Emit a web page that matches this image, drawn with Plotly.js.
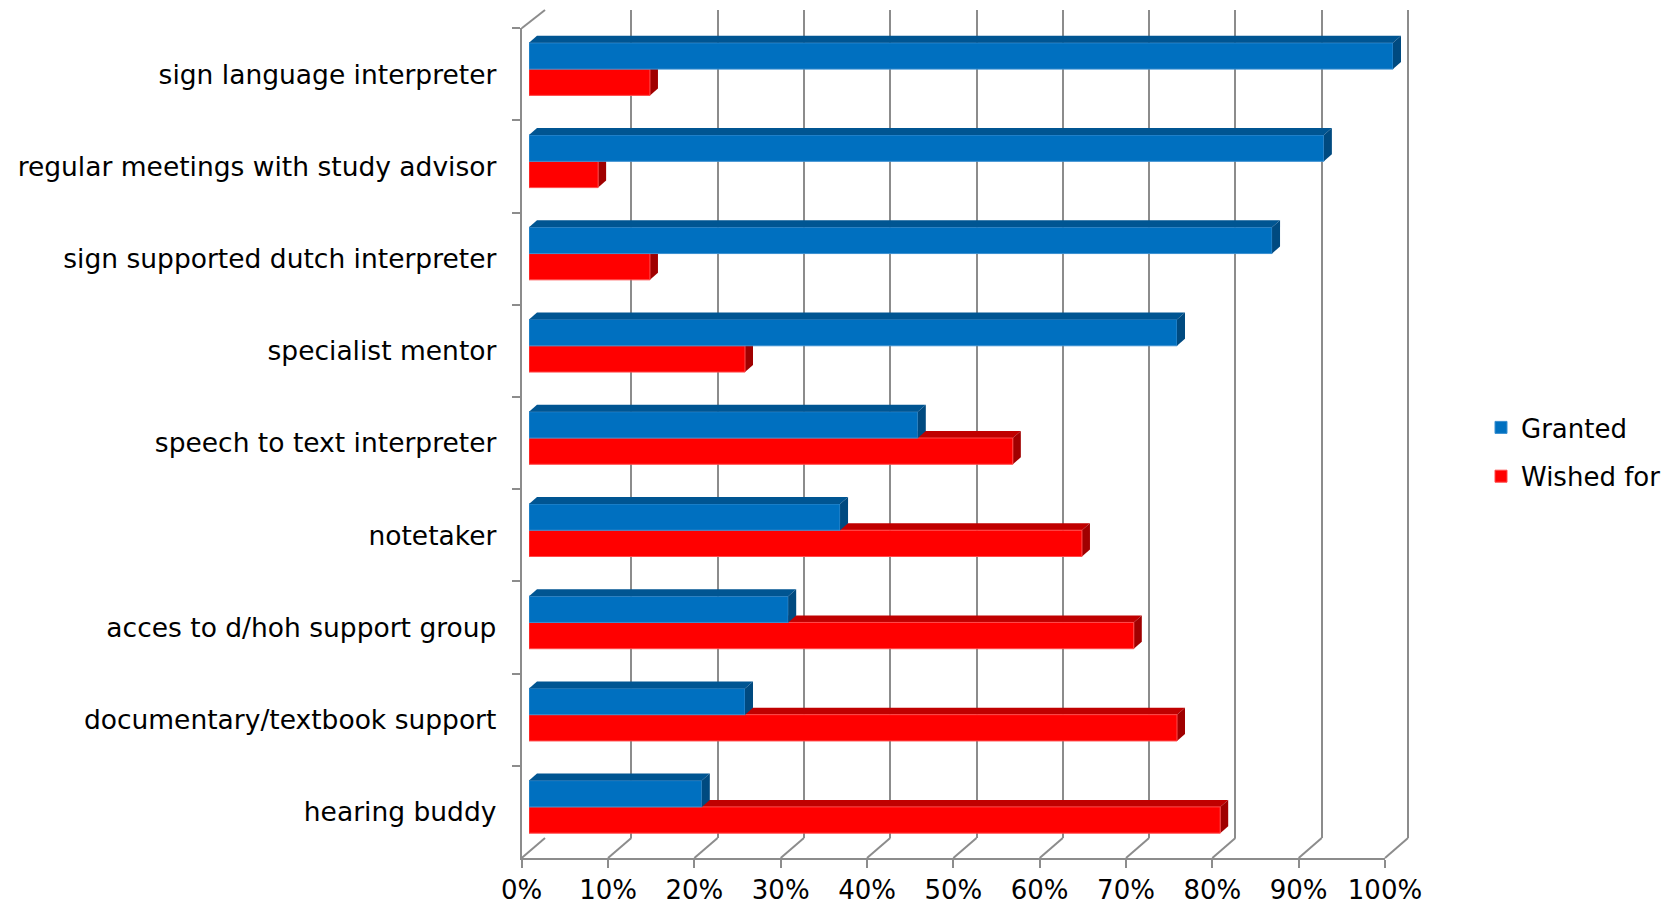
<!DOCTYPE html>
<html>
<head>
<meta charset="utf-8">
<script src="https://cdn.plot.ly/plotly-3.0.1.min.js"></script>
<style>html,body{margin:0;padding:0;background:#fff;}#chart{width:1677px;height:907px;}</style>
</head>
<body>
<div id="chart"></div>
<script>
// ---- data (bottom to top) ----
const categories = [
  "hearing buddy",
  "documentary/textbook support",
  "acces to d/hoh support group",
  "notetaker",
  "speech to text interpreter",
  "specialist mentor",
  "sign supported dutch interpreter",
  "regular meetings with study advisor",
  "sign language interpreter"
];
const granted  = [20, 25, 30, 36, 45, 75, 86, 92, 100];
const wishedFor = [80, 75, 70, 64, 56, 25, 14, 8, 14];
const seriesNames = ["Granted", "Wished for"];
const tickVals = [0, 10, 20, 30, 40, 50, 60, 70, 80, 90, 100];
const tickText = ["0%", "10%", "20%", "30%", "40%", "50%", "60%", "70%", "80%", "90%", "100%"];

// ---- geometry (pixels) ----
const W = 1677, H = 907;
const fx = p => p / W, fy = p => 1 - p / H;
const front = {l: 521.7, r: 1385, t: 28.3, b: 858};
const back  = {l: 545,   r: 1408, t: 10,   b: 838};
const mid   = {l: 529,   r: 1393, t: 23,   b: 853};
const EXT = 1.06; // extra room right of 100% so edge marks are not clipped

const FONT = "DejaVu Sans";
const GRID = "#8c8c8c";
const BLUE = "#0070c0", BLUE_TOP = "#005592", BLUE_SIDE = "#004a80";
const RED = "#ff0000", RED_TOP = "#c00000", RED_SIDE = "#a00000";
const bargap = 0.43;
const w = (1 - bargap) / 2;

const dxU = 8 / ((mid.r - mid.l) / 100);
const dyU = 7 / ((mid.b - mid.t) / categories.length);

const traces = [
  {type: "scatter", x: [0, 100], y: [0, 1], mode: "markers", marker: {opacity: 0},
   xaxis: "x", yaxis: "y", showlegend: false, hoverinfo: "skip"},
  {type: "bar", orientation: "h", name: seriesNames[1], y: categories, x: wishedFor,
   xaxis: "x2", yaxis: "y2", marker: {color: RED, line: {color: "#ff4a4a", width: 1}},
   legendrank: 2, legendgroup: "w", hoverinfo: "skip"},
  {type: "bar", orientation: "h", name: seriesNames[0], y: categories, x: granted,
   xaxis: "x2", yaxis: "y2", marker: {color: BLUE, line: {color: "#3a8fd0", width: 1}},
   legendrank: 1, legendgroup: "g", hoverinfo: "skip"},
  {type: "scatter", y: categories, x: granted, mode: "none", xaxis: "x3", yaxis: "y3",
   showlegend: false, hoverinfo: "skip"}
];

const shapes = [];
function faces(vals, yOff, topCol, sideCol, layer) {
  vals.forEach((v, i) => {
    const yb = i + yOff, yt = yb + w;
    shapes.push({type: "path", xref: "x2", yref: "y2", layer: layer, line: {width: 0},
      fillcolor: topCol,
      path: `M0,${yt} L${v},${yt} L${v + dxU},${yt + dyU} L${dxU},${yt + dyU} Z`});
    shapes.push({type: "path", xref: "x2", yref: "y2", layer: layer, line: {width: 0},
      fillcolor: sideCol,
      path: `M${v},${yb} L${v},${yt} L${v + dxU},${yt + dyU} L${v + dxU},${yb + dyU} Z`});
  });
}
faces(wishedFor, -w, RED_TOP, RED_SIDE, "below");
faces(granted, 0, BLUE_TOP, BLUE_SIDE, "above");

// floor diagonals (front tick -> back gridline) and top-left corner, in paper coords
const frontPx = v => front.l + (front.r - front.l) * v / 100;
const backPx  = v => back.l + (back.r - back.l) * v / 100;
tickVals.forEach(v => {
  shapes.push({type: "line", xref: "paper", yref: "paper", layer: "below",
    x0: fx(frontPx(v)), y0: fy(front.b), x1: fx(backPx(v)), y1: fy(back.b),
    line: {color: GRID, width: 2}});
});
shapes.push({type: "line", xref: "paper", yref: "paper", layer: "below",
  x0: fx(front.l), y0: fy(front.t), x1: fx(back.l), y1: fy(back.t), line: {color: GRID, width: 2}});

const layout = {
  width: W, height: H,
  margin: {l: 0, r: 0, t: 0, b: 0},
  paper_bgcolor: "#ffffff", plot_bgcolor: "rgba(0,0,0,0)",
  font: {family: FONT, size: 26, color: "#000"},
  barmode: "group", bargap: bargap, bargroupgap: 0,
  showlegend: true,
  legend: {x: fx(1481), y: fy(452), xanchor: "left", yanchor: "middle",
           font: {family: FONT, size: 26, color: "#000"}, bgcolor: "rgba(0,0,0,0)",
           traceorder: "grouped", tracegroupgap: 12},
  xaxis: {domain: [fx(back.l), fx(back.l + (back.r - back.l) * EXT)], range: [0, 100 * EXT], anchor: "y",
          tickvals: tickVals, showgrid: true, gridcolor: GRID, gridwidth: 2,
          zeroline: false, showline: false, showticklabels: false, ticks: ""},
  yaxis: {domain: [fy(back.b), fy(back.t)], range: [0, 1], anchor: "x",
          showgrid: false, zeroline: false, showline: false, showticklabels: false, ticks: ""},
  xaxis2: {domain: [fx(mid.l), fx(mid.l + (mid.r - mid.l) * EXT)], range: [0, 100 * EXT], anchor: "y2", visible: false},
  yaxis2: {domain: [fy(mid.b), fy(mid.t)], range: [-0.5, categories.length - 0.5], anchor: "x2",
           type: "category", categoryorder: "array", categoryarray: categories, visible: false},
  xaxis3: {domain: [fx(front.l), fx(front.r)], range: [0, 100], anchor: "y3",
           tickvals: tickVals, ticktext: tickText, showgrid: false, zeroline: false,
           showline: true, linecolor: GRID, linewidth: 2,
           ticks: "outside", ticklen: 8, tickwidth: 2, tickcolor: GRID,
           tickfont: {family: FONT, size: 26, color: "#000"}, automargin: false},
  yaxis3: {domain: [fy(front.b), fy(front.t)], range: [-0.5, categories.length - 0.5], anchor: "x3",
           type: "category", categoryorder: "array", categoryarray: categories,
           showgrid: false, zeroline: false, showline: true, linecolor: GRID, linewidth: 2,
           ticks: "outside", tickson: "boundaries", ticklen: 8, tickwidth: 2, tickcolor: GRID,
           ticklabelstandoff: 18,
           tickfont: {family: FONT, size: 26.5, color: "#000"}, automargin: false},
  shapes: shapes
};

Plotly.newPlot("chart", traces, layout, {displayModeBar: false, staticPlot: true});
</script>
</body>
</html>
